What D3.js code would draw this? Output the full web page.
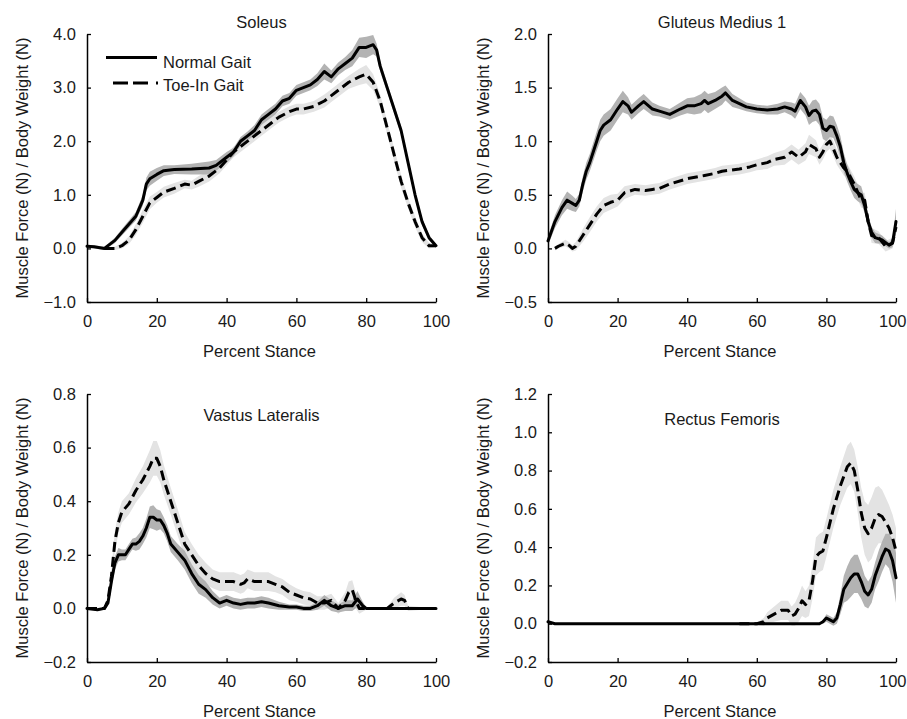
<!DOCTYPE html>
<html>
<head>
<meta charset="utf-8">
<script src="https://cdn.jsdelivr.net/npm/d3@7"></script>
<style>
  html, body { margin: 0; padding: 0; background: #fff; }
  svg { display: block; }
  text { font-family: "Liberation Sans", Arial, sans-serif; fill: #1a1a1a; }
</style>
</head>
<body>
<svg id="chart" width="907" height="719"></svg>
<script>
// ---------- DATA: [percent stance, mean, sd] ----------
const soleusNormal = [[0,0.04,0.03],[2,0.03,0.03],[5,0.0,0.03],[8,0.15,0.05],[10,0.3,0.06],[12,0.45,0.07],[14,0.6,0.08],[16,0.9,0.1],[17,1.2,0.12],[18,1.3,0.13],[20,1.38,0.12],[22,1.45,0.1],[25,1.47,0.08],[30,1.48,0.1],[35,1.5,0.12],[37,1.55,0.1],[40,1.7,0.1],[42,1.8,0.08],[44,2.0,0.08],[46,2.1,0.08],[48,2.2,0.1],[50,2.4,0.1],[52,2.5,0.1],[54,2.6,0.1],[56,2.75,0.1],[58,2.8,0.1],[60,2.95,0.1],[62,3.0,0.1],[64,3.05,0.1],[66,3.15,0.12],[68,3.3,0.15],[70,3.2,0.12],[72,3.35,0.12],[74,3.45,0.12],[76,3.55,0.15],[78,3.75,0.18],[80,3.75,0.2],[82,3.8,0.18],[83,3.7,0.12],[84,3.4,0.1],[86,3.0,0.08],[88,2.6,0.08],[90,2.2,0.08],[92,1.6,0.08],[94,1.0,0.08],[96,0.5,0.07],[98,0.2,0.05],[100,0.05,0.03]];
const soleusToeIn = [[5,0.0,0.02],[8,0.0,0.03],[10,0.05,0.05],[12,0.15,0.07],[14,0.35,0.1],[16,0.6,0.12],[18,0.85,0.12],[20,0.95,0.1],[22,1.05,0.1],[25,1.12,0.1],[28,1.2,0.08],[30,1.18,0.08],[32,1.25,0.1],[35,1.35,0.1],[38,1.5,0.1],[40,1.65,0.1],[42,1.8,0.1],[45,1.95,0.1],[48,2.1,0.1],[50,2.2,0.1],[53,2.35,0.1],[55,2.45,0.1],[58,2.55,0.1],[60,2.6,0.1],[62,2.6,0.1],[65,2.65,0.1],[68,2.75,0.12],[70,2.85,0.12],[72,2.95,0.12],[75,3.1,0.12],[78,3.2,0.15],[80,3.25,0.17],[82,3.1,0.15],[84,2.75,0.12],[87,2.0,0.12],[90,1.25,0.12],[92,0.85,0.1],[94,0.5,0.1],[96,0.2,0.08],[98,0.05,0.05],[100,0.05,0.03]];

const gluteusNormal = [[0,0.07,0.04],[2,0.25,0.06],[4,0.38,0.07],[5.5,0.45,0.08],[7,0.42,0.07],[8,0.4,0.06],[9,0.45,0.06],[10,0.6,0.07],[11,0.72,0.08],[12,0.8,0.08],[14,1.0,0.09],[15,1.1,0.1],[16,1.15,0.1],[18,1.2,0.1],[20,1.3,0.1],[21.5,1.37,0.1],[23,1.33,0.08],[24,1.27,0.07],[26,1.33,0.07],[27.5,1.37,0.07],[30,1.3,0.06],[32,1.28,0.05],[35,1.25,0.05],[38,1.3,0.06],[40,1.33,0.07],[42,1.33,0.08],[44,1.35,0.09],[45,1.38,0.09],[46,1.35,0.09],[48,1.38,0.08],[50,1.42,0.08],[51,1.45,0.07],[53,1.38,0.06],[55,1.35,0.05],[57,1.32,0.04],[60,1.3,0.04],[63,1.29,0.04],[66,1.3,0.05],[68,1.32,0.05],[70,1.3,0.06],[71,1.28,0.07],[72.5,1.38,0.08],[74,1.32,0.08],[75,1.24,0.09],[76,1.28,0.1],[77,1.29,0.1],[78,1.25,0.1],[79,1.12,0.1],[80,1.1,0.1],[81,1.14,0.1],[82,1.13,0.1],[83,1.05,0.1],[84,0.95,0.1],[85,0.8,0.09],[86,0.7,0.08],[87,0.62,0.08],[88,0.55,0.08],[89,0.52,0.08],[90,0.5,0.08],[91,0.4,0.07],[92,0.25,0.06],[93,0.15,0.05],[94,0.1,0.05],[96,0.08,0.04],[98,0.03,0.03],[99,0.05,0.04],[99.5,0.15,0.07],[100,0.25,0.12]];
const gluteusToeIn = [[2,0.0,0.02],[3,0.02,0.02],[5,0.05,0.03],[6,0.03,0.03],[7,0.0,0.03],[8,0.02,0.04],[10,0.12,0.06],[12,0.22,0.07],[14,0.32,0.07],[16,0.4,0.07],[18,0.43,0.07],[20,0.45,0.06],[22,0.52,0.06],[25,0.55,0.05],[28,0.54,0.05],[30,0.55,0.05],[32,0.56,0.05],[35,0.6,0.05],[40,0.65,0.05],[45,0.68,0.05],[48,0.7,0.05],[50,0.72,0.05],[55,0.74,0.05],[58,0.76,0.05],[60,0.78,0.05],[63,0.8,0.06],[65,0.83,0.06],[68,0.85,0.07],[70,0.9,0.07],[72,0.85,0.07],[74,0.9,0.08],[75,0.97,0.09],[77,0.93,0.08],[78,0.85,0.07],[79,0.9,0.07],[80,0.97,0.07],[81,1.0,0.07],[82,0.93,0.07],[83,0.85,0.07],[85,0.75,0.07],[86,0.72,0.07],[88,0.6,0.07],[90,0.45,0.07],[91,0.45,0.07],[92,0.25,0.07],[93,0.12,0.07],[95,0.1,0.06],[97,0.02,0.05],[99,0.05,0.05],[100,0.2,0.08]];

const vastusNormal = [[0,0.0,0.0],[3,-0.005,0.003],[5,0.0,0.005],[6,0.02,0.01],[7,0.1,0.02],[8,0.17,0.025],[9,0.2,0.025],[10,0.2,0.02],[11,0.2,0.02],[12,0.22,0.02],[13,0.24,0.02],[14,0.24,0.025],[15,0.25,0.03],[16,0.27,0.03],[17,0.3,0.035],[18,0.34,0.04],[19,0.34,0.045],[20,0.33,0.04],[21,0.33,0.035],[22,0.31,0.03],[23,0.28,0.03],[24,0.24,0.03],[26,0.21,0.03],[28,0.18,0.035],[30,0.13,0.035],[32,0.09,0.035],[34,0.07,0.03],[36,0.04,0.025],[38,0.02,0.02],[40,0.03,0.02],[42,0.02,0.02],[44,0.015,0.02],[46,0.02,0.02],[48,0.02,0.02],[50,0.025,0.02],[52,0.02,0.02],[55,0.01,0.015],[58,0.005,0.01],[60,0.005,0.01],[62,0.0,0.01],[64,0.0,0.01],[66,0.01,0.015],[68,0.03,0.02],[70,0.01,0.02],[72,0.0,0.015],[74,0.01,0.02],[76,0.01,0.02],[77.5,0.035,0.03],[79,0.01,0.015],[80,0.0,0.005],[82,0.0,0.0],[100,0.0,0.0]];
const vastusToeIn = [[0,0.0,0.0],[5,0.0,0.005],[6,0.03,0.015],[7,0.12,0.03],[8,0.25,0.04],[9,0.32,0.04],[10,0.36,0.04],[12,0.39,0.04],[14,0.44,0.045],[16,0.48,0.05],[18,0.53,0.06],[19,0.56,0.065],[20,0.56,0.065],[21,0.53,0.06],[22,0.48,0.055],[24,0.4,0.05],[26,0.32,0.05],[28,0.24,0.045],[30,0.2,0.04],[32,0.16,0.04],[34,0.13,0.04],[36,0.11,0.035],[38,0.1,0.035],[40,0.1,0.035],[42,0.1,0.035],[44,0.09,0.035],[45,0.095,0.035],[46,0.11,0.035],[48,0.1,0.035],[50,0.1,0.035],[52,0.1,0.035],[54,0.09,0.03],[56,0.08,0.03],[58,0.06,0.03],[60,0.05,0.025],[62,0.04,0.025],[64,0.035,0.025],[66,0.02,0.025],[68,0.02,0.025],[70,0.03,0.025],[72,0.0,0.02],[74,0.03,0.03],[75,0.06,0.04],[76,0.07,0.035],[77,0.03,0.03],[78,0.0,0.02],[80,0.0,0.005],[86,0.0,0.005],[88,0.02,0.02],[90,0.035,0.025],[91,0.03,0.02],[92,0.0,0.01],[100,0.0,0.0]];

const rectusNormal = [[0,0.01,0.01],[1,0.005,0.005],[2,0.0,0.0],[78,0.0,0.0],[79,0.01,0.01],[80,0.03,0.02],[81,0.02,0.02],[82,0.01,0.02],[83,0.03,0.03],[84,0.1,0.05],[85,0.18,0.07],[86,0.21,0.09],[87,0.24,0.1],[88,0.26,0.1],[89,0.26,0.1],[90,0.22,0.09],[91,0.17,0.08],[92,0.15,0.07],[93,0.18,0.07],[94,0.25,0.07],[95,0.3,0.08],[96,0.35,0.08],[97,0.39,0.08],[98,0.38,0.09],[99,0.33,0.11],[100,0.24,0.13]];
const rectusToeIn = [[55,0.0,0.0],[60,0.0,0.005],[62,0.01,0.02],[63,0.03,0.03],[65,0.05,0.04],[67,0.07,0.05],[69,0.07,0.05],[70,0.04,0.05],[71,0.05,0.06],[72,0.08,0.07],[73,0.12,0.08],[74,0.1,0.07],[75,0.12,0.08],[76,0.22,0.09],[77,0.35,0.1],[78,0.37,0.1],[79,0.38,0.1],[80,0.45,0.1],[82,0.6,0.1],[84,0.72,0.1],[86,0.82,0.11],[87,0.84,0.11],[88,0.8,0.11],[89,0.7,0.12],[90,0.58,0.13],[91,0.5,0.14],[92,0.47,0.15],[93,0.5,0.16],[94,0.55,0.16],[95,0.57,0.15],[96,0.56,0.14],[97,0.53,0.13],[98,0.5,0.12],[99,0.45,0.12],[100,0.38,0.12]];

// ---------- Tick labels / axis settings ----------
const xTicks = [0, 20, 40, 60, 80, 100];
const soleusTicks = [-1.0, 0.0, 1.0, 2.0, 3.0, 4.0];
const gluteusTicks = [-0.5, 0.0, 0.5, 1.0, 1.5, 2.0];
const vastusTicks = [-0.2, 0.0, 0.2, 0.4, 0.6, 0.8];
const rectusTicks = [-0.2, 0.0, 0.2, 0.4, 0.6, 0.8, 1.0, 1.2];
const seriesNames = ["Normal Gait", "Toe-In Gait"];
const xLabel = "Percent Stance";
const yLabel = "Muscle Force (N) / Body Weight (N)";

// ---------- Layout ----------
const panels = [
  { title: "Soleus", normal: soleusNormal, toe: soleusToeIn, ticks: soleusTicks,
    x0: 87, x1: 436, y0: 34, y1: 302, titleY: 28, legend: true },
  { title: "Gluteus Medius 1", normal: gluteusNormal, toe: gluteusToeIn, ticks: gluteusTicks,
    x0: 548, x1: 896, y0: 34, y1: 302, titleY: 28 },
  { title: "Vastus Lateralis", normal: vastusNormal, toe: vastusToeIn, ticks: vastusTicks,
    x0: 87, x1: 436, y0: 394, y1: 662, titleY: 421 },
  { title: "Rectus Femoris", normal: rectusNormal, toe: rectusToeIn, ticks: rectusTicks,
    x0: 548, x1: 896, y0: 394, y1: 662, titleY: 425 }
];

const svg = d3.select("#chart");
const FS = "16.5px";
const NORMAL_BAND = "#b3b3b3";
const TOE_BAND = "#e3e3e3";

panels.forEach(p => {
  const x = d3.scaleLinear().domain([0, 100]).range([p.x0, p.x1]);
  const yd = d3.extent(p.ticks);
  const y = d3.scaleLinear().domain(yd).range([p.y1, p.y0]);
  const g = svg.append("g");

  const area = d3.area().x(d => x(d[0])).y0(d => y(d[1] - d[2])).y1(d => y(d[1] + d[2]));
  const line = d3.line().x(d => x(d[0])).y(d => y(d[1]));

  // bands
  g.append("path").datum(p.toe).attr("d", area).attr("fill", TOE_BAND);
  g.append("path").datum(p.normal).attr("d", area).attr("fill", NORMAL_BAND);

  // lines
  g.append("path").datum(p.toe).attr("d", line)
    .attr("fill", "none").attr("stroke", "#000").attr("stroke-width", 3)
    .attr("stroke-dasharray", "10,5").attr("stroke-linejoin", "round");
  g.append("path").datum(p.normal).attr("d", line)
    .attr("fill", "none").attr("stroke", "#000").attr("stroke-width", 3)
    .attr("stroke-linejoin", "round").attr("stroke-linecap", "round");

  // axes
  const xAxis = d3.axisBottom(x).tickValues(xTicks).tickFormat(d3.format("d"))
    .tickSizeInner(-4).tickSizeOuter(0).tickPadding(13);
  const yAxis = d3.axisLeft(y).tickValues(p.ticks).tickFormat(d3.format(".1f"))
    .tickSizeInner(-4).tickSizeOuter(0).tickPadding(11);

  const gx = g.append("g").attr("transform", `translate(0,${p.y1})`).call(xAxis);
  const gy = g.append("g").attr("transform", `translate(${p.x0},0)`).call(yAxis);
  [gx, gy].forEach(a => {
    a.selectAll("path.domain").attr("stroke", "#000").attr("stroke-width", 1.5);
    a.selectAll(".tick line").attr("stroke", "#000").attr("stroke-width", 1.3);
    a.selectAll("text").style("font-size", FS).style("font-family", "Liberation Sans, Arial, sans-serif").attr("fill", "#1a1a1a");
  });
  // keep the last x tick label inside the picture on the right-hand panels
  if (p.x1 > 880) {
    gx.selectAll(".tick text").filter(d => d === 100).attr("text-anchor", "end").attr("dx", 10);
  }

  // title
  const cx = (p.x0 + p.x1) / 2;
  g.append("text").attr("x", cx).attr("y", p.titleY).attr("text-anchor", "middle")
    .style("font-size", FS).text(p.title);

  // x label
  g.append("text").attr("x", cx - 2).attr("y", p.y1 + 55).attr("text-anchor", "middle")
    .style("font-size", FS).text(xLabel);

  // y label
  const ly = (p.y0 + p.y1) / 2;
  const lx = p.x0 - 59;
  g.append("text").attr("transform", `translate(${lx},${ly}) rotate(-90)`)
    .attr("text-anchor", "middle").style("font-size", FS).text(yLabel);

  if (p.legend) {
    const lg = g.append("g");
    lg.append("line").attr("x1", 106).attr("x2", 157).attr("y1", 57.5).attr("y2", 57.5)
      .attr("stroke", "#000").attr("stroke-width", 3);
    lg.append("text").attr("x", 163).attr("y", 68).style("font-size", FS).text(seriesNames[0]);
    lg.append("line").attr("x1", 113).attr("x2", 158).attr("y1", 83).attr("y2", 83)
      .attr("stroke", "#000").attr("stroke-width", 3).attr("stroke-dasharray", "15,5,15,8,2");
    lg.append("text").attr("x", 163).attr("y", 91).style("font-size", FS).text(seriesNames[1]);
  }
});
</script>
</body>
</html>
